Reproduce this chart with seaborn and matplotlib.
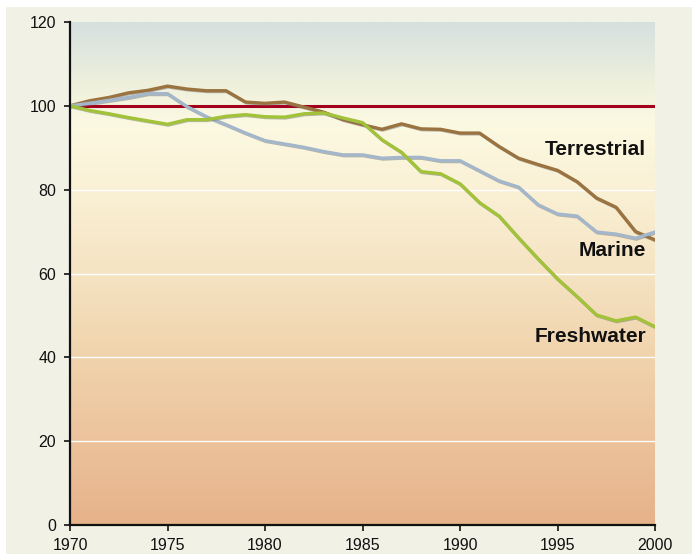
import numpy as np
import pandas as pd
import matplotlib
matplotlib.use("Agg")
import matplotlib.pyplot as plt
import matplotlib.patheffects as pe
from matplotlib.colors import LinearSegmentedColormap
from matplotlib.patches import Rectangle
import seaborn as sns

# Living planet style indices, 1970 = 100
years = list(range(1970, 2001))
terrestrial = [100, 101.2, 102.0, 103.1, 103.7, 104.7, 104.0, 103.6, 103.6, 100.9,
               100.6, 100.9, 99.7, 98.5, 96.7, 95.5, 94.4, 95.7, 94.5, 94.4,
               93.5, 93.5, 90.3, 87.5, 86.0, 84.6, 81.9, 78.0, 75.8, 70.0, 68.0]
marine = [100, 100.6, 101.3, 102.0, 102.9, 102.9, 99.8, 97.4, 95.5, 93.5,
          91.7, 90.9, 90.1, 89.1, 88.3, 88.3, 87.5, 87.7, 87.7, 86.9,
          86.9, 84.5, 82.1, 80.6, 76.4, 74.2, 73.7, 69.9, 69.4, 68.4, 69.9]
freshwater = [100, 98.9, 98.1, 97.2, 96.4, 95.6, 96.7, 96.7, 97.5, 97.9,
              97.4, 97.3, 98.1, 98.3, 97.1, 96.0, 91.9, 88.9, 84.3, 83.8,
              81.4, 76.9, 73.7, 68.5, 63.5, 58.7, 54.5, 50.1, 48.7, 49.6, 47.3]

series = ["Terrestrial", "Marine", "Freshwater"]
colors = {"Terrestrial": "#9a7340", "Marine": "#a4b6c9", "Freshwater": "#a2c23a"}
label_pos = {"Terrestrial": 89.5, "Marine": 65.6, "Freshwater": 44.9}

df = pd.DataFrame({"year": years * 3,
                   "index": terrestrial + marine + freshwater,
                   "group": sum([[s] * len(years) for s in series], [])})

sns.set_style("white")
plt.rcParams["font.family"] = ["Liberation Sans", "DejaVu Sans"]

fig = plt.figure(figsize=(6.92, 5.54), dpi=100, facecolor="white")
fig.patches.append(Rectangle((6 / 692, 0), 1, 1 - 7 / 554, transform=fig.transFigure,
                             facecolor="#f2f1e6", edgecolor="none", zorder=-10))
ax = fig.add_axes([70 / 692, 29 / 554, 585 / 692, 503 / 554])
ax.patch.set_alpha(0)

# background gradient
grad = LinearSegmentedColormap.from_list("bg", [
    (0.0, "#e6b28a"), (0.17, "#ecc39c"), (0.33, "#f0d3ac"), (0.5, "#f5e3c2"),
    (0.67, "#faf1d6"), (0.8, "#fcf9e2"), (0.88, "#eef0dc"), (1.0, "#d6e0df")])
ax.imshow(np.linspace(0, 1, 256).reshape(-1, 1), cmap=grad, origin="lower",
          extent=[1970, 2000, 0, 120], aspect="auto", zorder=0)

for v in [20, 40, 60, 80]:
    ax.axhline(v, color="white", lw=1.0, zorder=1)
ax.axhline(100, color="#a3001e", lw=2.2, zorder=2)

sns.lineplot(data=df, x="year", y="index", hue="group", palette=colors,
             linewidth=2.4, legend=False, ax=ax, zorder=3)
for line in ax.get_lines()[-3:]:
    line.set_path_effects([pe.SimpleLineShadow(offset=(0.6, -0.6), shadow_color="#777777", alpha=0.5),
                           pe.Normal()])
    line.set_solid_joinstyle("round")

for s in series:
    ax.text(1999.55, label_pos[s], s, ha="right", va="center",
            fontsize=15, fontweight="bold", color="#111111", zorder=4)

ax.set_xlim(1970, 2000)
ax.set_ylim(0, 120)
ax.set_xticks(range(1970, 2001, 5))
ax.set_yticks(range(0, 121, 20))
ax.set_xlabel("")
ax.set_ylabel("")
sns.despine(ax=ax)
for side in ["left", "bottom"]:
    ax.spines[side].set_color("#111111")
    ax.spines[side].set_linewidth(1.6)
    ax.spines[side].set_zorder(5)
ax.tick_params(axis="both", direction="out", length=4, width=1.2, color="#111111",
               labelsize=11.5, labelcolor="#111111", left=True, bottom=True)
ax.tick_params(axis="x", pad=5.5)
ax.tick_params(axis="y", pad=6)

fig.savefig("out.png", dpi=100, facecolor="white")
